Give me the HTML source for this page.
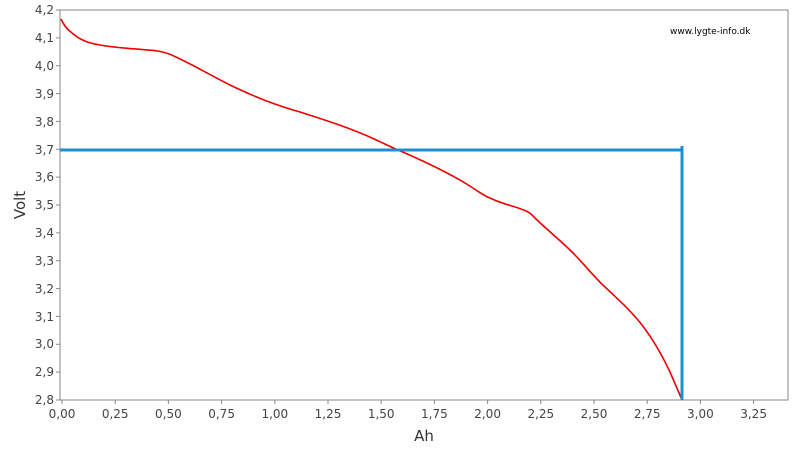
<!DOCTYPE html>
<html><head><style>body{margin:0;background:#fff}svg{display:block}text{font-family:"DejaVu Sans","Liberation Sans",sans-serif;font-size:12px;fill:#444}</style></head><body>
<svg width="800" height="450" xmlns="http://www.w3.org/2000/svg">
<rect x="60" y="10" width="728" height="390" fill="#fff" stroke="#888" stroke-width="1"/>
<g stroke="#888" stroke-width="1">
<line x1="56" y1="10" x2="60" y2="10"/><line x1="56" y1="37.9" x2="60" y2="37.9"/><line x1="56" y1="65.7" x2="60" y2="65.7"/><line x1="56" y1="93.6" x2="60" y2="93.6"/><line x1="56" y1="121.4" x2="60" y2="121.4"/><line x1="56" y1="149.3" x2="60" y2="149.3"/><line x1="56" y1="177.1" x2="60" y2="177.1"/><line x1="56" y1="205" x2="60" y2="205"/><line x1="56" y1="232.9" x2="60" y2="232.9"/><line x1="56" y1="260.7" x2="60" y2="260.7"/><line x1="56" y1="288.6" x2="60" y2="288.6"/><line x1="56" y1="316.4" x2="60" y2="316.4"/><line x1="56" y1="344.3" x2="60" y2="344.3"/><line x1="56" y1="372.1" x2="60" y2="372.1"/><line x1="56" y1="400" x2="60" y2="400"/>
<line x1="62" y1="400" x2="62" y2="404"/><line x1="115.2" y1="400" x2="115.2" y2="404"/><line x1="168.4" y1="400" x2="168.4" y2="404"/><line x1="221.6" y1="400" x2="221.6" y2="404"/><line x1="274.8" y1="400" x2="274.8" y2="404"/><line x1="328" y1="400" x2="328" y2="404"/><line x1="381.2" y1="400" x2="381.2" y2="404"/><line x1="434.4" y1="400" x2="434.4" y2="404"/><line x1="487.6" y1="400" x2="487.6" y2="404"/><line x1="540.8" y1="400" x2="540.8" y2="404"/><line x1="594" y1="400" x2="594" y2="404"/><line x1="647.2" y1="400" x2="647.2" y2="404"/><line x1="700.4" y1="400" x2="700.4" y2="404"/><line x1="753.6" y1="400" x2="753.6" y2="404"/>
</g>
<g text-anchor="end">
<text x="54" y="14">4,2</text><text x="54" y="42">4,1</text><text x="54" y="70">4,0</text><text x="54" y="98">3,9</text><text x="54" y="126">3,8</text><text x="54" y="154">3,7</text><text x="54" y="181">3,6</text><text x="54" y="209">3,5</text><text x="54" y="237">3,4</text><text x="54" y="265">3,3</text><text x="54" y="293">3,2</text><text x="54" y="321">3,1</text><text x="54" y="348">3,0</text><text x="54" y="376">2,9</text><text x="54" y="404">2,8</text>
</g>
<g text-anchor="middle">
<text x="62" y="418">0,00</text><text x="115.2" y="418">0,25</text><text x="168.4" y="418">0,50</text><text x="221.6" y="418">0,75</text><text x="274.8" y="418">1,00</text><text x="328" y="418">1,25</text><text x="381.2" y="418">1,50</text><text x="434.4" y="418">1,75</text><text x="487.6" y="418">2,00</text><text x="540.8" y="418">2,25</text><text x="594" y="418">2,50</text><text x="647.2" y="418">2,75</text><text x="700.4" y="418">3,00</text><text x="753.6" y="418">3,25</text>
<text x="424" y="441" style="font-size:15px;fill:#333">Ah</text>
</g>
<text x="0" y="0" transform="translate(25 205) rotate(-90)" text-anchor="middle" style="font-size:15px;fill:#333">Volt</text>
<text x="670" y="34" style="font-size:9px;fill:#000">www.lygte-info.dk</text>
<path d="M61,19 C64,26 68,30 72,33 C80,40 88,43 100,45 C115,48 140,49 158,51 C168,53 172,55 180,59 C195,66 210,75 230,85 C255,97 275,105 300,112 C325,120 350,128 372,138 C385,144 395,149 405,153 C430,164 450,174 465,183 C478,191 484,196 490,198 C498,202 505,204 512,206 C525,210 530,212 534,217 C545,228 560,240 572,252 C585,265 595,278 605,287 C620,301 632,312 642,325 C652,338 662,355 670,372 C676,386 680,395 682,400" fill="none" stroke="#e00" stroke-width="1.6"/>
<path d="M60,150 H682 V400 M682,146 V150" fill="none" stroke="#1a90d0" stroke-width="3"/>
</svg>
</body></html>
